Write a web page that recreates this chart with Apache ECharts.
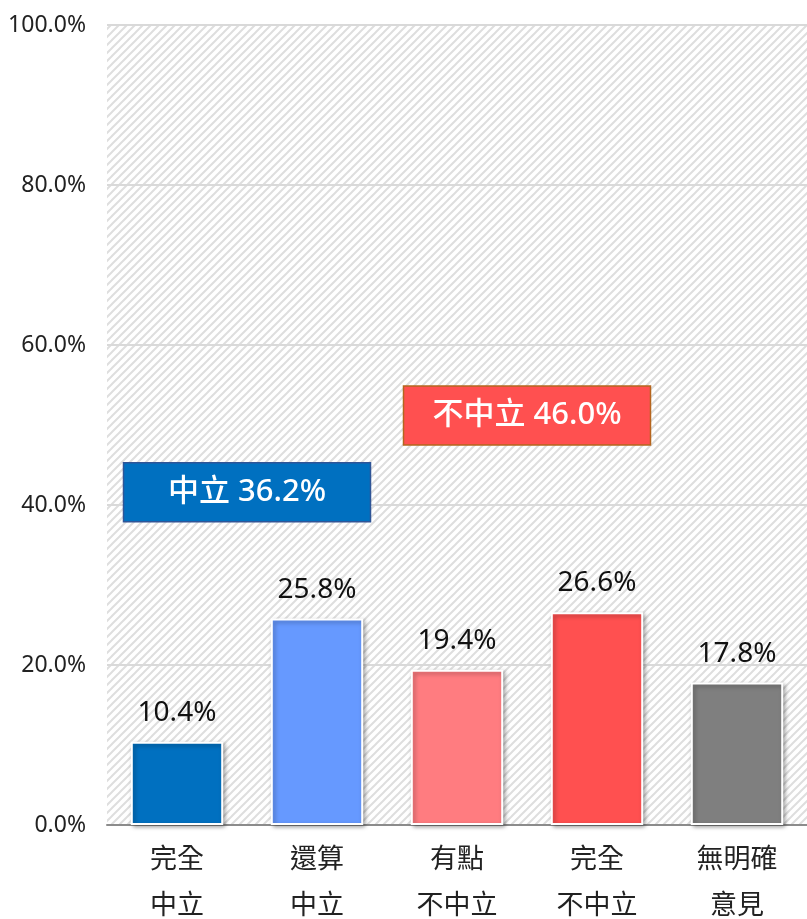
<!DOCTYPE html>
<html>
<head>
<meta charset="utf-8">
<script src="https://cdn.jsdelivr.net/npm/echarts@6/dist/echarts.min.js"></script>
<style>
  html, body { margin: 0; padding: 0; background: #fff; }
  #chart { width: 807px; height: 919px; }
</style>
</head>
<body>
<div id="chart"></div>
<script>
// data
const categories = ['完全\n中立', '還算\n中立', '有點\n不中立', '完全\n不中立', '無明確\n意見']
const values = [10.4, 25.8, 19.4, 26.6, 17.8]
const barColors = ['#0070C0', '#6699FF', '#FF7C80', '#FF5050', '#7F7F7F']
const yTicks = [0, 20, 40, 60, 80, 100]
// 兩個合計框: 文字, 跨的類別, 位置(%)
const boxTexts = ['中立 36.2%', '不中立 46.0%']
const boxSpans = [[0, 1], [2, 3]]
const boxLevels = [41.6, 51.2]

const FONT = '"Noto Sans", "Noto Sans CJK TC", sans-serif'

// 斜線底紋
function makeHatch () {
  const c = document.createElement('canvas')
  c.width = 8
  c.height = 8
  const ctx = c.getContext('2d')
  ctx.fillStyle = '#ffffff'
  ctx.fillRect(0, 0, 8, 8)
  ctx.strokeStyle = '#dedede'
  ctx.lineWidth = 2
  ctx.beginPath()
  ctx.moveTo(-2, 10); ctx.lineTo(10, -2)
  ctx.moveTo(-6, 6); ctx.lineTo(6, -6)
  ctx.moveTo(2, 14); ctx.lineTo(14, 2)
  ctx.stroke()
  return c
}

const myChart = echarts.init(document.getElementById('chart'))
const option = {
  animation: false,
  grid: {
    left: 107,
    right: 0,
    top: 25,
    bottom: 94,
    outerBoundsMode: 'none',
    containLabel: false,
    show: true,
    borderWidth: 0,
    backgroundColor: { image: makeHatch(), repeat: 'repeat' }
  },
  xAxis: {
    type: 'category',
    data: categories,
    axisLine: { lineStyle: { color: '#8c8c8c', width: 2 } },
    axisTick: { show: false },
    axisLabel: {
      color: '#222',
      fontFamily: FONT,
      fontSize: 27,
      lineHeight: 46,
      margin: 12
    }
  },
  yAxis: {
    type: 'value',
    min: 0,
    max: 100,
    interval: 20,
    axisLine: { show: false },
    axisTick: { show: false },
    splitLine: { lineStyle: { color: '#d9d9d9', width: 2 } },
    axisLabel: {
      color: '#222',
      fontFamily: FONT,
      fontSize: 23,
      margin: 21,
      formatter: v => yTicks.includes(v) ? v.toFixed(1) + '%' : ''
    }
  },
  series: [
    {
      type: 'bar',
      barWidth: '66%',
      data: values.map((v, i) => ({
        value: v,
        itemStyle: { color: barColors[i] }
      })),
      itemStyle: {
        borderColor: '#ffffff',
        borderWidth: 2,
        shadowColor: 'rgba(0, 0, 0, 0.35)',
        shadowBlur: 4,
        shadowOffsetX: 2,
        shadowOffsetY: 2
      },
      label: {
        show: true,
        position: 'top',
        distance: 15,
        color: '#111',
        fontFamily: FONT,
        fontSize: 28,
        formatter: p => p.value.toFixed(1) + '%'
      }
    }
  ]
}
myChart.setOption(option)

// 合計框位置由座標軸換算
const boxFill = ['#0070C0', '#FF5050']
const boxBorder = ['#2F5597', '#B5651D']
const graphics = boxTexts.map((t, i) => {
  const p0 = myChart.convertToPixel({ seriesIndex: 0 }, [boxSpans[i][0], boxLevels[i]])
  const p1 = myChart.convertToPixel({ seriesIndex: 0 }, [boxSpans[i][1], boxLevels[i]])
  const cx = (p0[0] + p1[0]) / 2
  const cy = p0[1]
  const w = 247
  const h = 59
  return {
    type: 'group',
    x: cx,
    y: cy,
    children: [
      {
        type: 'rect',
        shape: { x: -w / 2, y: -h / 2, width: w, height: h },
        style: { fill: boxFill[i], stroke: boxBorder[i], lineWidth: 1.5 }
      },
      {
        type: 'text',
        x: 0,
        y: 0,
        style: {
          text: t,
          fill: '#fff',
          font: '500 31px ' + FONT,
          align: 'center',
          verticalAlign: 'middle'
        }
      }
    ]
  }
})
myChart.setOption({ graphic: graphics })
</script>
</body>
</html>
